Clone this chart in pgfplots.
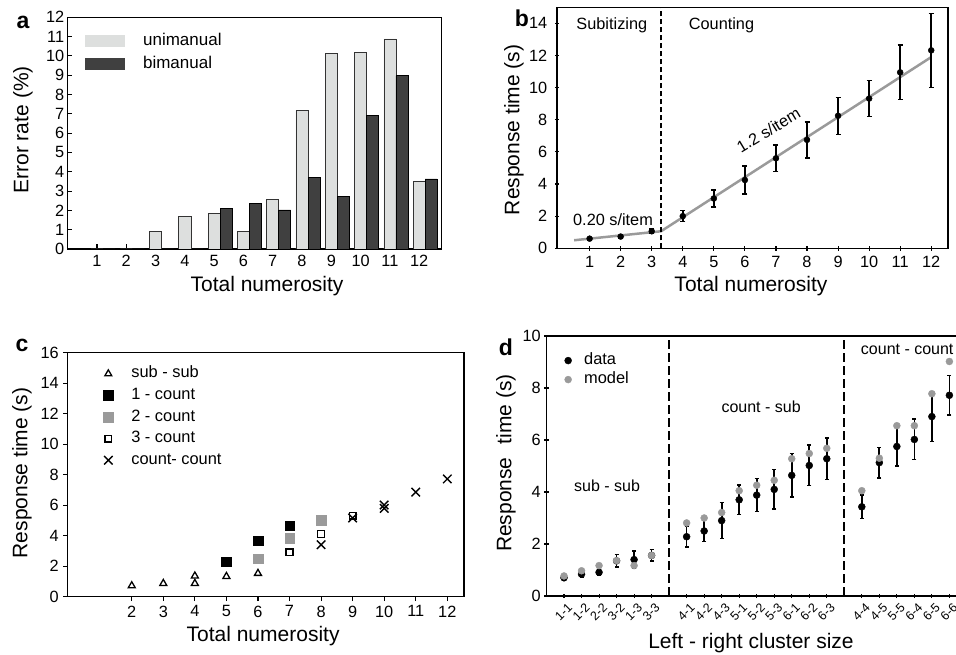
\documentclass[border=0pt]{standalone}
\usepackage{pgfplots}
\pgfplotsset{compat=1.18}
\usepackage{fontspec}
\setmainfont{Liberation Sans}
\definecolor{light}{HTML}{DDDFDE}
\definecolor{dark}{HTML}{404040}
\definecolor{mgray}{HTML}{9A9A9A}
\pgfplotsset{
  every axis/.append style={
    scale only axis,
    /pgf/number format/assume math mode=true,
    axis line style={line width=1.3pt},
    tick style={line width=1.1pt, black},
    major tick length=4.5pt,
    tick pos=left,
    tick label style={font=\fontsize{16.3}{19}\selectfont},
    label style={font=\fontsize{21}{24}\selectfont},
    legend cell align=left,
  },
}
\pgfplotstableread{
x y e
1 0.60 0.08
2 0.73 0.08
3 1.06 0.15
4 2.00 0.35
5 3.10 0.54
6 4.25 0.88
7 5.60 0.83
8 6.75 1.12
9 8.25 1.15
10 9.32 1.12
11 10.95 1.70
12 12.32 2.31
}\tableb
\pgfplotstableread{
x y e m
1 0.70 0.10 0.77
2 0.84 0.12 0.97
3 0.91 0.10 1.17
4 1.35 0.24 1.36
5 1.40 0.33 1.17
6 1.56 0.22 1.56
8 2.28 0.39 2.81
9 2.50 0.40 3.00
10 2.90 0.70 3.21
11 3.70 0.57 4.05
12 3.88 0.63 4.26
13 4.10 0.76 4.45
14 4.64 0.83 5.28
15 5.02 0.78 5.48
16 5.28 0.80 5.68
18 3.43 0.45 4.05
19 5.13 0.59 5.30
20 5.75 0.75 6.55
21 6.02 0.78 6.55
22 6.90 0.95 7.78
23 7.72 0.76 9.02
}\tabled
\begin{document}
\begin{tikzpicture}
\useasboundingbox (0,0) rectangle (956pt,655pt);
% ---------------- panel a
\begin{axis}[at={(67.7pt,406pt)}, anchor=south west, width=374pt, height=231.7pt,
  xmin=0, xmax=12.77, ymin=0, ymax=12, xtick={1,...,12}, ytick={0,...,12},
  tick align=inside,
  xticklabel style={yshift=-3pt},
  xlabel={Total numerosity}, ylabel={Error rate (\%)},
  xlabel style={at={(axis description cs:0.533,-0.160)}, anchor=center},
  ylabel style={at={(axis description cs:-0.1195,0.514)}, anchor=center},
  legend style={at={(axis description cs:0.046,0.932)}, anchor=north west, draw=none, fill=none,
    inner sep=0pt, row sep=8pt, font=\fontsize{17}{20}\selectfont,
    nodes={inner sep=0pt, text height=12pt, text depth=3pt},
    /tikz/every odd column/.append style={column sep=4pt}},
  legend image code/.code={\fill[#1, draw=none] (0pt,-6pt) rectangle (40pt,6pt); \path[draw=none, fill=none] (0pt,0pt) -- (54pt,0pt);},
]
\addplot[ybar, bar width=0.41, bar shift=0, fill=light, draw=black!80, line width=0.7pt]
  coordinates {(1,0)(2,0)(3,0.93)(4,1.68)(5,1.83)(6,0.93)(7,2.57)(8,7.18)(9,10.12)(10,10.16)(11,10.88)(12,3.49)};
\addlegendentry{unimanual}
\addplot[ybar, bar width=0.41, bar shift=0.41, fill=dark, draw=black, line width=0.7pt]
  coordinates {(1,0)(2,0)(3,0)(4,0)(5,2.12)(6,2.38)(7,2.02)(8,3.70)(9,2.73)(10,6.93)(11,8.98)(12,3.63)};
\addlegendentry{bimanual}
\end{axis}
% ---------------- panel b
\begin{axis}[at={(557pt,406.7pt)}, anchor=south west, width=391pt, height=241pt,
  xmin=-0.05, xmax=12.54, ymin=0, ymax=15, xtick={1,...,12}, ytick={0,2,...,14},
  tick align=center,
  xticklabel style={yshift=-2pt}, yticklabel style={xshift=-4pt},
  xlabel={Total numerosity}, ylabel={Response time (s)},
  xlabel style={at={(axis description cs:0.496,-0.156)}, anchor=center},
  ylabel style={at={(axis description cs:-0.110,0.491)}, anchor=center},
]
\addplot[mgray, line width=2.5pt] coordinates {(0.5,0.5)(3.3,1.06)(12,11.9)};
\addplot[black, line width=2pt, dash pattern=on 5pt off 3pt] coordinates {(3.3,0)(3.3,15)};
\addplot[only marks, mark=*, mark size=3pt, black,
  error bars/.cd, y dir=both, y explicit,
  error bar style={line width=1.6pt, black},
  error mark options={rotate=90, mark size=2.5pt, line width=1.4pt}]
  table[x=x, y=y, y error=e] {\tableb};
\node[anchor=west, inner sep=0pt, font=\fontsize{16.3}{19}\selectfont] at (axis cs:0.571,13.9) {Subitizing};
\node[anchor=west, inner sep=0pt, font=\fontsize{16.3}{19}\selectfont] at (axis cs:4.19,13.9) {Counting};
\node[anchor=west, inner sep=0pt, font=\fontsize{16.3}{19}\selectfont] at (axis cs:0.464,1.77) {0.20 s/item};
\node[rotate=31, inner sep=0pt, font=\fontsize{16.3}{19}\selectfont] at (axis cs:6.76,7.35) {1.2 s/item};
\end{axis}
% ---------------- panel c
\begin{axis}[at={(67.7pt,58.3pt)}, anchor=south west, width=396.3pt, height=244pt,
  xmin=-0.03, xmax=12.53, ymin=0, ymax=16, xtick={2,...,12}, ytick={0,2,...,16},
  tick align=outside,
  xticklabel style={yshift=-1pt}, yticklabel style={xshift=-1pt},
  xlabel={Total numerosity}, ylabel={Response time (s)},
  xlabel style={at={(axis description cs:0.493,-0.161)}, anchor=center},
  ylabel style={at={(axis description cs:-0.1153,0.507)}, anchor=center},
  legend style={at={(axis description cs:0.078,0.947)}, anchor=north west, draw=none, fill=none,
    inner sep=0pt, row sep=5.6pt, font=\fontsize{16.4}{19}\selectfont,
    nodes={inner sep=0pt, text height=12pt, text depth=4pt}},
  legend image code/.code={\draw[mark repeat=2, mark phase=2, #1] plot coordinates {(0pt,0pt)(9.5pt,0pt)(19pt,0pt)}; \path[draw=none, fill=none] (0pt,0pt) -- (32.5pt,0pt);},
]
\addplot[only marks, mark=triangle, mark size=4pt, line width=1.3pt, black]
  coordinates {(2,0.72)(3,0.87)(4,1.36)(4,0.87)(5,1.33)(6,1.53)};
\addlegendentry{sub - sub}
\addplot[only marks, mark=square*, mark size=4.8pt, black]
  coordinates {(5,2.30)(6,3.67)(7,4.66)};
\addlegendentry{1 - count}
\addplot[only marks, mark=square*, mark size=4.8pt, mgray, draw=mgray]
  coordinates {(6,2.49)(7,3.83)(8,5.03)};
\addlegendentry{2 - count}
\addplot[only marks, mark=square, mark size=3.4pt, line width=1.3pt, black]
  coordinates {(7,2.91)(8,4.11)(9,5.31)};
\addlegendentry{3 - count}
\addplot[only marks, mark=x, mark size=6pt, line width=1.4pt, black]
  coordinates {(8,3.41)(9,5.16)(10,6.01)(10,5.79)(11,6.86)(12,7.72)};
\addlegendentry{count- count}
\end{axis}
% ---------------- panel d
\begin{axis}[at={(546.5pt,59pt)}, anchor=south west, width=420.4pt, height=260pt,
  xmin=0, xmax=24, ymin=0, ymax=10, ytick={0,2,...,10},
  xtick={1,2,3,4,5,6,8,9,10,11,12,13,14,15,16,18,19,20,21,22,23},
  xticklabels={1-1,1-2,2-2,3-2,1-3,3-3,4-1,4-2,4-3,5-1,5-2,5-3,6-1,6-2,6-3,4-4,4-5,5-5,6-4,6-5,6-6},
  tick align=center,
  xticklabel style={rotate=45, anchor=north east, inner sep=1pt, font=\fontsize{12.5}{14}\selectfont, xshift=0pt, yshift=-4pt},
  xlabel={Left - right cluster size}, ylabel={Response\hspace{0.35em} time (s)},
  xlabel style={at={(axis description cs:0.4864,-0.181)}, anchor=center},
  ylabel style={at={(axis description cs:-0.0963,0.5115)}, anchor=center},
  legend style={at={(axis description cs:0.032,0.937)}, anchor=north west, draw=none, fill=none,
    inner sep=0pt, row sep=3pt, font=\fontsize{16.4}{19}\selectfont,
    nodes={inner sep=0pt, text height=12pt, text depth=4pt}},
  legend image code/.code={\draw[mark repeat=2, mark phase=2, #1] plot coordinates {(0pt,0pt)(8pt,0pt)(16pt,0pt)}; \path[draw=none, fill=none] (0pt,0pt) -- (24pt,0pt);},
]
\addplot[black, line width=1.8pt, dash pattern=on 9pt off 4pt, forget plot] coordinates {(7,0)(7,10)};
\addplot[black, line width=1.8pt, dash pattern=on 9pt off 4pt, forget plot] coordinates {(17,0)(17,10)};
\addplot[only marks, mark=*, mark size=3.5pt, black,
  error bars/.cd, y dir=both, y explicit,
  error bar style={line width=1.7pt, black},
  error mark options={rotate=90, mark size=2pt, line width=1.4pt}]
  table[x=x, y=y, y error=e] {\tabled};
\addlegendentry{data}
\addplot[only marks, mark=*, mark size=3.5pt, mgray]
  table[x=x, y=m] {\tabled};
\addlegendentry{model}
\node[anchor=west, inner sep=0pt, font=\fontsize{16}{19}\selectfont] at (axis cs:1.57,4.24) {sub - sub};
\node[anchor=west, inner sep=0pt, font=\fontsize{16}{19}\selectfont] at (axis cs:9.98,7.28) {count - sub};
\node[anchor=west, inner sep=0pt, font=\fontsize{16}{19}\selectfont] at (axis cs:17.94,9.49) {count - count};
\end{axis}
% ---------------- panel letters
\node[font=\fontsize{23}{26}\selectfont\bfseries] at (23pt,633pt) {a};
\node[font=\fontsize{23}{26}\selectfont\bfseries] at (522pt,637pt) {b};
\node[font=\fontsize{23}{26}\selectfont\bfseries] at (22pt,310pt) {c};
\node[font=\fontsize{23}{26}\selectfont\bfseries] at (506pt,308pt) {d};
\end{tikzpicture}
\end{document}
